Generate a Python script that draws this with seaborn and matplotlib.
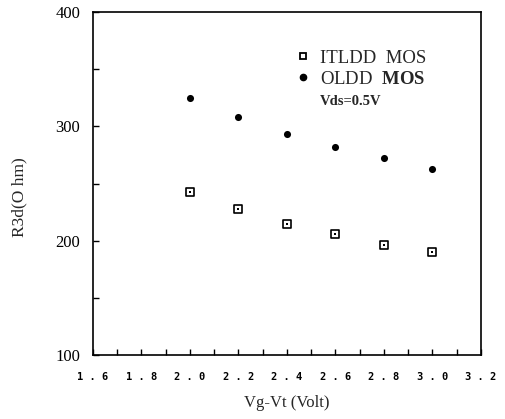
import matplotlib
matplotlib.use("Agg")
import matplotlib.pyplot as plt
import seaborn as sns
import pandas as pd
from matplotlib.lines import Line2D

vg = [2.0, 2.2, 2.4, 2.6, 2.8, 3.0]
itldd = [243, 228, 215, 206, 196, 190]
oldd = [325, 308, 293, 282, 272, 263]
series_names = ["ITLDD  MOS", "OLDD  MOS"]
xticks = [1.6, 1.8, 2.0, 2.2, 2.4, 2.6, 2.8, 3.0, 3.2]
yticks = [100, 200, 300, 400]

df = pd.DataFrame({
    "x": vg + vg,
    "y": itldd + oldd,
    "s": [series_names[0]] * len(vg) + [series_names[1]] * len(vg),
})

sns.set_theme(style="white")
plt.rcParams["font.family"] = ["Liberation Serif", "DejaVu Serif"]
plt.rcParams["mathtext.fontset"] = "custom"
plt.rcParams["mathtext.bf"] = "Liberation Serif:bold"
plt.rcParams["mathtext.rm"] = "Liberation Serif"

fig = plt.figure(figsize=(5.05, 4.19), dpi=100)
ax = fig.add_axes([0.184, 0.153, 0.768, 0.818])

sub1 = df[df.s == series_names[0]]
sub2 = df[df.s == series_names[1]]
sns.scatterplot(data=sub1, x="x", y="y", ax=ax, marker="s", s=28,
                facecolor="white", edgecolor="black", linewidth=1.2, legend=False)
sns.scatterplot(data=sub1, x="x", y="y", ax=ax, marker="s", s=3,
                color="black", linewidth=0, legend=False)
sns.scatterplot(data=sub2, x="x", y="y", ax=ax, marker="o", s=26,
                color="black", linewidth=0, legend=False)

ax.set_xlim(1.6, 3.2)
ax.set_ylim(100, 400)
ax.set_xticks(xticks)
ax.set_xticklabels([" . ".join(f"{t:.1f}".split(".")) for t in xticks],
                   fontfamily="DejaVu Sans Mono", fontweight="bold", fontsize=7.5)
ax.set_xticks([1.7, 1.9, 2.1, 2.3, 2.5, 2.7, 2.9, 3.1], minor=True)
ax.set_yticks(yticks)
ax.set_yticklabels([str(t) for t in yticks], fontsize=12)
ax.set_yticks([150, 250, 350], minor=True)
ax.tick_params(axis="both", which="both", direction="in", length=4, width=1,
               top=False, right=False, bottom=True, left=True, colors="black")
ax.tick_params(axis="x", which="major", pad=12)
ax.tick_params(axis="y", which="major", pad=9)
for sp in ax.spines.values():
    sp.set_color("black")
    sp.set_linewidth(1.2)

ax.set_xlabel("Vg-Vt (Volt)", fontsize=12, labelpad=10)
ax.set_ylabel("R3d(O hm)", fontsize=12.5)
ax.yaxis.set_label_coords(-0.168, 0.46)

handles = [
    Line2D([], [], marker="s", linestyle="none", markersize=4.5,
           markerfacecolor="white", markeredgecolor="black", markeredgewidth=1.3),
    Line2D([], [], marker="o", linestyle="none", markersize=4.5, color="black"),
    Line2D([], [], linestyle="none"),
]
labels = ["ITLDD  MOS", r"OLDD  $\mathbf{MOS}$", "Vds=0.5V"]
leg = ax.legend(handles, labels, loc="upper left", bbox_to_anchor=(0.528, 0.89),
                frameon=False, fontsize=13.5, handlelength=0.6, handletextpad=0.6,
                labelspacing=0.2, borderpad=0, borderaxespad=0)
leg.get_texts()[2].set_fontsize(10.5)
leg.get_texts()[2].set_fontweight("bold")

fig.savefig("out.png", dpi=100)
